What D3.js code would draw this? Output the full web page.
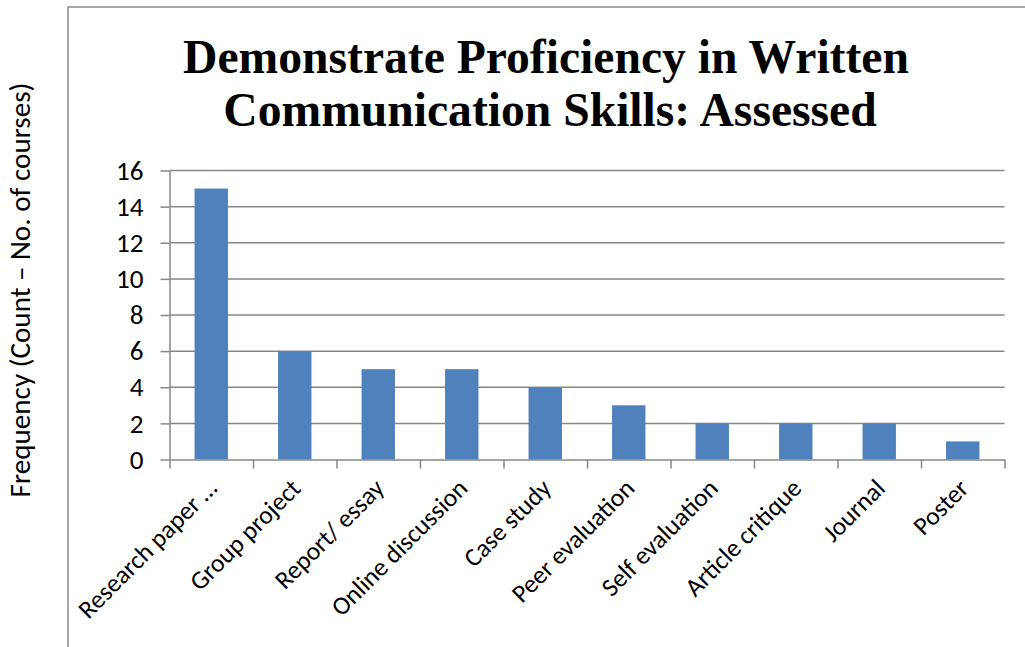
<!DOCTYPE html>
<html>
<head>
<meta charset="utf-8">
<script src="https://cdn.jsdelivr.net/npm/d3@7"></script>
<style>
  html, body { margin: 0; padding: 0; background: #fff; }
  svg { display: block; }
</style>
</head>
<body>
<svg id="chart" width="1025" height="647"></svg>
<script>
const categories = ["Research paper …", "Group project", "Report/ essay", "Online discussion", "Case study", "Peer evaluation", "Self evaluation", "Article critique", "Journal", "Poster"];
const values = [15, 6, 5, 5, 4, 3, 2, 2, 2, 1];
const yTicks = [0, 2, 4, 6, 8, 10, 12, 14, 16];
const titleLines = ["Demonstrate Proficiency in Written", "Communication Skills: Assessed"];
const yTitle = "Frequency (Count \u2013 No. of courses)";

(function () {
const svg = d3.select("#chart");
const sans = "Carlito, Lato, 'Liberation Sans', sans-serif";
const gridColor = "#878787";

function fit(sel, target) {
  const w = sel.node().getComputedTextLength();
  const fs = parseFloat(sel.attr("font-size"));
  const nfs = fs * target / w;
  sel.attr("font-size", nfs);
  return nfs;
}

// outer frame
svg.append("rect")
  .attr("x", 68).attr("y", 7)
  .attr("width", 1100).attr("height", 800)
  .attr("fill", "none").attr("stroke", "#8a8a8a").attr("stroke-width", 1.5);

const pl = 169.5, pr = 1004.5, pt = 170.5, pb = 459.5;

const y = d3.scaleLinear().domain([0, 16]).range([pb, pt]);
const x = d3.scaleBand().domain(categories).range([pl, pr]).padding(0);
const xi = d3.scaleLinear().domain([0, categories.length]).range([pl, pr]);

// gridlines
svg.append("g").selectAll("line")
  .data(yTicks.filter(d => d > 0))
  .join("line")
  .attr("x1", pl).attr("x2", pr)
  .attr("y1", d => y(d)).attr("y2", d => y(d))
  .attr("stroke", gridColor).attr("stroke-width", 1.5);

// bars
const bw = x.bandwidth() * 0.4;
svg.append("g").selectAll("rect")
  .data(categories.map((c, i) => ({c, v: values[i]})))
  .join("rect")
  .attr("x", d => x(d.c) + (x.bandwidth() - bw) / 2)
  .attr("width", bw)
  .attr("y", d => y(d.v))
  .attr("height", d => y(0) - y(d.v))
  .attr("fill", "#4F81BD");

// y axis
const yAxis = svg.append("g")
  .attr("transform", `translate(${pl},0)`)
  .call(d3.axisLeft(y).tickValues(yTicks).tickSize(9).tickSizeOuter(0).tickPadding(17));
yAxis.selectAll("path.domain").attr("stroke", gridColor).attr("stroke-width", 1.5);
yAxis.selectAll(".tick line").attr("stroke", gridColor).attr("stroke-width", 1.5);
yAxis.selectAll(".tick text")
  .attr("font-family", sans).attr("font-size", 22).attr("fill", "#000");

// x axis (category boundary ticks)
const xAxis = svg.append("g")
  .attr("transform", `translate(0,${pb})`)
  .call(d3.axisBottom(xi).tickValues(d3.range(categories.length + 1)).tickSize(9).tickSizeOuter(0).tickFormat(""));
xAxis.selectAll("path.domain").attr("stroke", gridColor).attr("stroke-width", 1.5);
xAxis.selectAll(".tick line").attr("stroke", gridColor).attr("stroke-width", 1.5);

// x labels
const xl = svg.append("g").selectAll("text")
  .data(categories)
  .join("text")
  .attr("transform", d => `translate(${x(d) + x.bandwidth() / 2 + 1},${pb + 24}) rotate(-45)`)
  .attr("text-anchor", "end")
  .attr("dy", "0.35em")
  .attr("font-family", sans)
  .attr("font-size", 22)
  .attr("fill", "#000")
  .text(d => d);
const lfs = fit(d3.select(xl.nodes()[0]), 184);
xl.attr("font-size", lfs);
yAxis.selectAll(".tick text").attr("font-size", lfs * 1.06);

// y title
const yt = svg.append("text")
  .attr("transform", "translate(30,290) rotate(-90)")
  .attr("text-anchor", "middle")
  .attr("font-family", sans)
  .attr("font-size", 24)
  .attr("fill", "#000")
  .text(yTitle);
fit(yt, 415);

// title
const t1 = svg.append("text")
  .attr("x", 546).attr("y", 73)
  .attr("text-anchor", "middle")
  .attr("font-family", "'Liberation Serif', 'Times New Roman', serif")
  .attr("font-weight", "bold")
  .attr("font-size", 48)
  .attr("fill", "#000")
  .text(titleLines[0]);
const tfs = fit(t1, 726);
svg.append("text")
  .attr("x", 550).attr("y", 126)
  .attr("text-anchor", "middle")
  .attr("font-family", "'Liberation Serif', 'Times New Roman', serif")
  .attr("font-weight", "bold")
  .attr("font-size", tfs)
  .attr("fill", "#000")
  .text(titleLines[1]);
})();
</script>
</body>
</html>
